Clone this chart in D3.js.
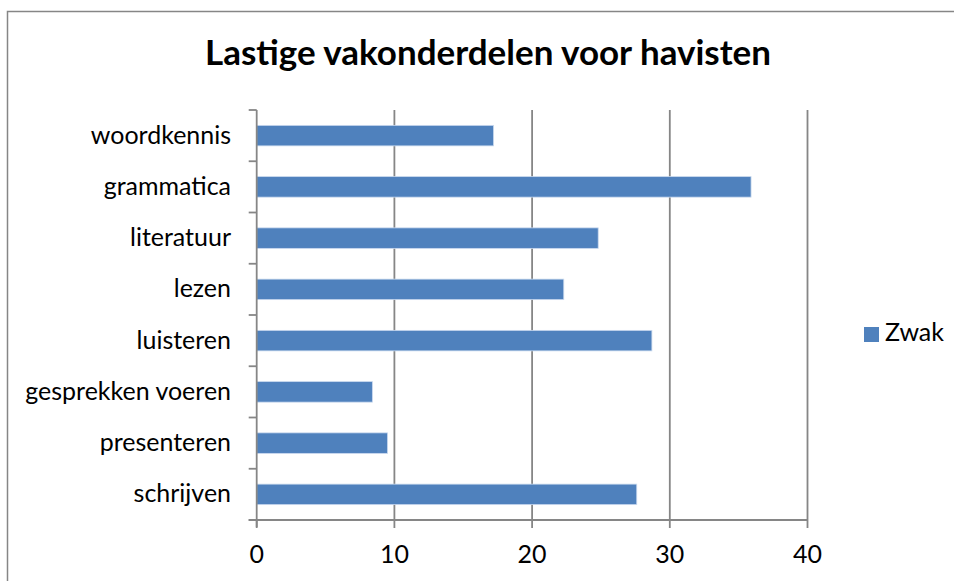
<!DOCTYPE html>
<html>
<head>
<meta charset="utf-8">
<script src="https://cdn.jsdelivr.net/npm/d3@7"></script>
<style>
  html, body { margin: 0; padding: 0; background: #fff; }
  svg { display: block; }
  text { font-family: Lato, "Open Sans", sans-serif; fill: #000; }
</style>
</head>
<body>
<svg id="chart" width="954" height="581"></svg>
<script>
// Onderdelen die havisten lastig vinden (serie "Zwak")
const categories = ["woordkennis", "grammatica", "literatuur", "lezen", "luisteren",
                    "gesprekken voeren", "presenteren", "schrijven"];
const zwak = [17.2, 35.9, 24.8, 22.3, 28.7, 8.4, 9.5, 27.6];
const xTicks = [0, 10, 20, 30, 40];
const seriesName = "Zwak";
const title = "Lastige vakonderdelen voor havisten";

const svg = d3.select("#chart");
const blue = "#4F81BD";
const gridCol = "#868686";

// outer chart frame
svg.append("rect")
  .attr("x", 7.5).attr("y", 11.5)
  .attr("width", 980).attr("height", 620)
  .attr("fill", "none").attr("stroke", gridCol).attr("stroke-width", 1.5);

const plot = { left: 256.7, right: 807.5, top: 110, bottom: 520 };

const x = d3.scaleLinear().domain([0, 40]).range([plot.left, plot.right]);
const y = d3.scaleBand().domain(categories).range([plot.top, plot.bottom])
  .paddingInner(0.6).paddingOuter(0.3);

// vertical gridlines
svg.append("g").selectAll("line").data(xTicks.slice(1)).join("line")
  .attr("x1", d => x(d)).attr("x2", d => x(d))
  .attr("y1", plot.top).attr("y2", plot.bottom)
  .attr("stroke", gridCol).attr("stroke-width", 1.8);

// bars
svg.append("g").selectAll("rect").data(categories).join("rect")
  .attr("x", x(0))
  .attr("y", d => y(d))
  .attr("width", (d, i) => x(zwak[i]) - x(0))
  .attr("height", y.bandwidth())
  .attr("fill", blue)
  .attr("stroke", "#c9d9ee").attr("stroke-width", 0.8);

// category axis (left)
const bandStep = (plot.bottom - plot.top) / categories.length;
const yAxis = svg.append("g");
yAxis.append("line")
  .attr("x1", plot.left).attr("x2", plot.left)
  .attr("y1", plot.top).attr("y2", plot.bottom + 7)
  .attr("stroke", gridCol).attr("stroke-width", 1.8);
yAxis.selectAll("line.tick").data(d3.range(categories.length + 1)).join("line")
  .attr("class", "tick")
  .attr("x1", plot.left - 8).attr("x2", plot.left)
  .attr("y1", i => plot.top + i * bandStep).attr("y2", i => plot.top + i * bandStep)
  .attr("stroke", gridCol).attr("stroke-width", 1.8);

const labelSize = 21;
const catLabels = yAxis.selectAll("text").data(categories).join("text")
  .attr("x", 231)
  .attr("y", d => y(d) + y.bandwidth() / 2 + 8)
  .attr("text-anchor", "end")
  .style("font-size", labelSize + "px")
  .text(d => d);

// size the labels so the longest one spans its width
const longest = catLabels.filter(d => d === "gesprekken voeren").node();
const fitSize = labelSize * 205.7 / longest.getComputedTextLength();
catLabels.style("font-size", fitSize + "px");

// value axis (bottom)
const xAxis = svg.append("g");
xAxis.append("line")
  .attr("x1", plot.left - 8).attr("x2", plot.right)
  .attr("y1", plot.bottom).attr("y2", plot.bottom)
  .attr("stroke", gridCol).attr("stroke-width", 1.8);
xAxis.selectAll("line.tick").data(xTicks).join("line")
  .attr("class", "tick")
  .attr("x1", d => x(d)).attr("x2", d => x(d))
  .attr("y1", plot.bottom).attr("y2", plot.bottom + 8)
  .attr("stroke", gridCol).attr("stroke-width", 1.8);
xAxis.selectAll("text").data(xTicks).join("text")
  .attr("x", d => x(d))
  .attr("y", 563)
  .attr("text-anchor", "middle")
  .style("font-size", fitSize + "px")
  .text(d => d);

// title
const t = svg.append("text")
  .attr("x", 488).attr("y", 65)
  .attr("text-anchor", "middle")
  .style("font-weight", "bold")
  .style("font-size", "30px")
  .text(title);
t.style("font-size", (30 * 566 / t.node().getComputedTextLength()) + "px");

// legend
const lg = svg.append("g");
lg.append("rect").attr("x", 864).attr("y", 327).attr("width", 15).attr("height", 15)
  .attr("fill", blue);
lg.append("text").attr("x", 885).attr("y", 341)
  .style("font-size", fitSize + "px")
  .text(seriesName);
</script>
</body>
</html>
